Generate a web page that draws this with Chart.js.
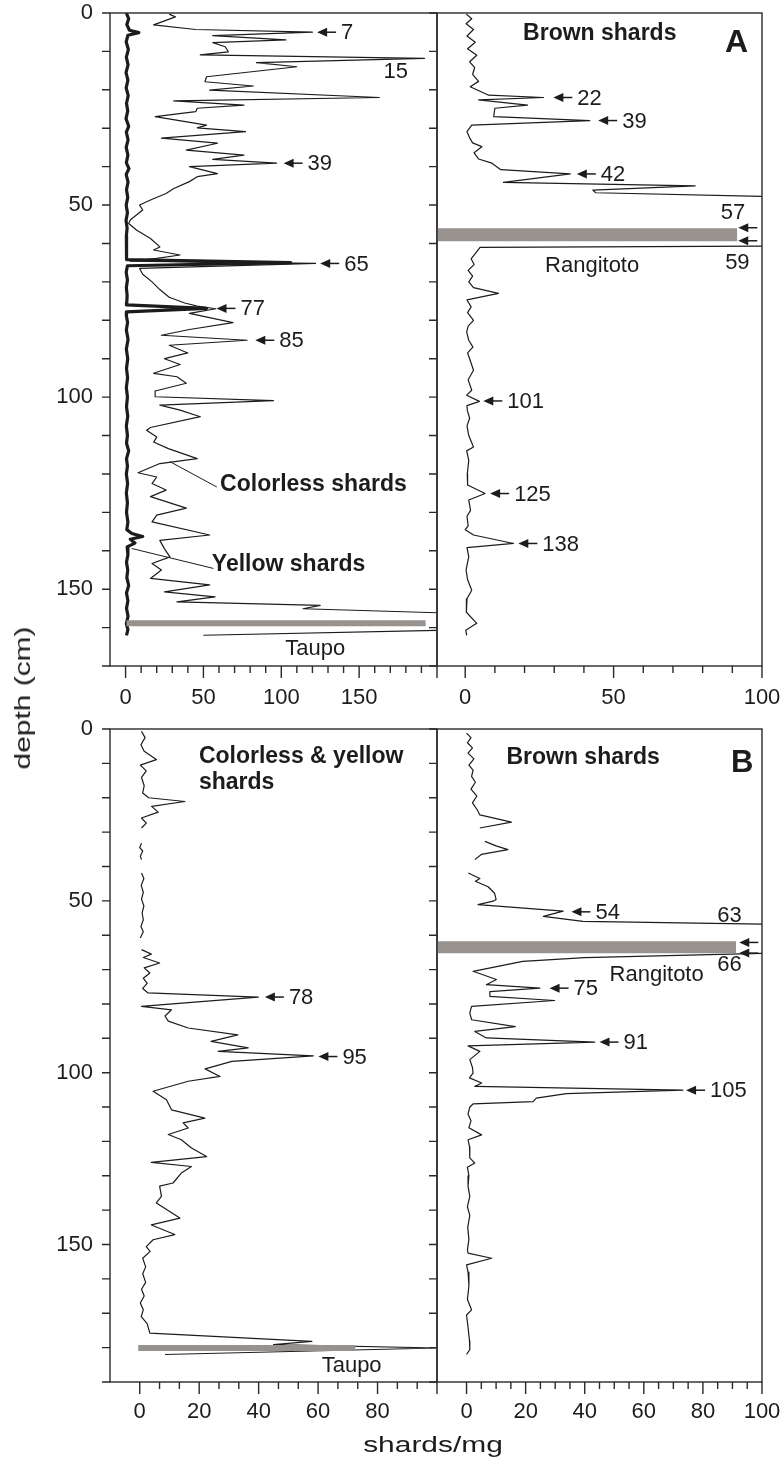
<!DOCTYPE html>
<html>
<head>
<meta charset="utf-8">
<script src="https://cdn.jsdelivr.net/npm/chart.js@4.4.1/dist/chart.umd.min.js"></script>
<style>
  body { margin: 0; background: #fff; }
  #page { position: relative; width: 783px; height: 1458px; overflow: hidden; background: #fff;
          font-family: 'Liberation Sans', Arial, Helvetica, sans-serif; color: #1c1c1c; }
  canvas { position: absolute; }
  .axisTitle { position: absolute; font-size: 22px; line-height: 22px; white-space: nowrap; }
  #ytitle { left: 23px; top: 698px; transform: translate(-50%, -50%) rotate(-90deg) scaleX(1.36); }
  #xtitle { left: 433px; top: 1434px; transform: translateX(-50%) scaleX(1.36); }
</style>
</head>
<body>
<div id="page">
  <canvas id="coreA_left" width="445" height="725" style="left:0px;top:0px"></canvas>
  <canvas id="coreA_right" width="363" height="725" style="left:420px;top:0px"></canvas>
  <canvas id="coreB_left" width="445" height="758" style="left:0px;top:700px"></canvas>
  <canvas id="coreB_right" width="363" height="758" style="left:420px;top:700px"></canvas>
  <div class="axisTitle" id="ytitle">depth (cm)</div>
  <div class="axisTitle" id="xtitle">shards/mg</div>
</div>
<script>
const FONT = "'Liberation Sans', Arial, Helvetica, sans-serif";
const INK = '#1c1c1c';
const GREY = '#98928f';

// ---------- core A : colorless shards (thin line) ----------
const depthColorlessA = [
  0.3, 1.0, 3.1, 4.3, 5.0, 5.9, 7.0, 7.7, 8.8, 10.1,
  10.9, 11.8, 12.9, 14.0, 16.6, 17.9, 19.0, 20.1, 22.0, 22.9,
  24.0, 24.8, 25.7, 27.0, 29.2, 29.9, 30.9, 32.6, 33.9, 35.7,
  37.0, 38.1, 39.1, 40.0, 41.8, 42.6, 43.9, 45.7, 47.0, 48.7,
  50.0, 51.3, 52.6, 53.9, 54.8, 56.5, 58.7, 60.9, 61.7, 63.0,
  63.9, 64.6, 65.2, 66.5, 68.0, 70.0, 72.0, 74.0, 75.5, 76.3,
  77.0, 78.2, 80.6, 82.4, 83.9, 85.2, 86.5, 88.5, 90.0, 91.5,
  93.8, 94.7, 96.4, 98.4, 99.9, 100.9, 102.1, 103.4, 105.1, 107.9,
  108.6, 110.4, 111.7, 113.4, 116.0, 117.3, 119.7, 120.8, 122.5, 124.2,
  125.9, 128.9, 130.7, 132.5, 135.9, 137.3, 139.5, 141.6, 143.3, 145.0,
  147.2, 148.9, 150.7, 152.0, 153.3, 154.2, 155.1, 156.2, 160.7, 162.0
];
const colorlessA = [
  28, 32, 18, 45, 120, 56, 103, 56, 64, 66,
  48, 192, 84, 110, 52, 51, 82, 54, 163, 31,
  76, 46, 45, 19, 52, 46, 77, 23, 59, 39,
  76, 56, 97, 41, 59, 46, 41, 31, 26, 16,
  9, 11, 7, 3, 2, 7, 16, 22, 18, 35,
  20, 3, 122, 9, 11, 17, 22, 28, 38, 46,
  58, 41, 69, 41, 23, 78, 28, 40, 25, 35,
  18, 33, 39, 19, 19, 95, 22, 35, 48, 16,
  13.5, 20, 18, 27.5, 46, 22, 8, 20, 17, 26,
  16, 39, 20, 17, 54, 22, 25, 28.5, 17, 23,
  16, 54, 25, 57.5, 33, 125, 114, 205, 205, 50
];

// ---------- core A : yellow shards (bold line) ----------
const depthYellowA = [
  0, 1.5, 3, 4.5, 5.1, 5.8, 7.5, 9.5, 11.5, 13.5,
  15.5, 17.5, 19.5, 21.5, 23.5, 25.5, 27.5, 29.5, 31, 33,
  35, 37, 39, 40.5, 42, 44, 46, 48, 50, 52,
  54, 56, 58, 60, 62, 64.2, 65.0, 65.8, 67.5, 69.5,
  71.5, 73.5, 75.3, 76.0, 76.9, 77.8, 78.8, 80.5, 82.5, 85,
  87.5, 90, 92.5, 95, 97.5, 100, 102.5, 105, 107.5, 110,
  112, 114, 116, 118, 120, 122.5, 125, 127.5, 130, 132.5,
  134.5, 135.5, 136.3, 137, 138, 139, 141, 143, 145, 147,
  149, 151, 153, 155, 157, 159, 160.5, 162
];
const yellowA = [
  0.5, 2.0, 0.8, 2.5, 8.5, 1.5, 0.4, 1.8, 0.5, 1.6,
  0.3, 1.5, 0.4, 1.7, 0.6, 1.4, 0.3, 2.0, 0.5, 1.6,
  0.4, 1.5, 0.5, 2.2, 0.4, 1.6, 0.6, 1.4, 0.4, 1.2,
  0.3, 1.0, 0.5, 0.8, 0.5, 0.6, 106, 1.2, 0.4, 1.2,
  0.5, 1.0, 0.8, 0.6, 52, 0.8, 0.5, 1.3, 0.5, 1.6,
  0.5, 1.4, 0.6, 1.3, 0.5, 1.2, 0.6, 1.4, 0.5, 1.2,
  0.6, 2.0, 0.6, 1.2, 0.5, 1.3, 0.5, 1.2, 0.6, 1.5,
  0.8, 4, 11, 3, 6, 1, 1.5, 0.6, 1.4, 0.8,
  2.0, 0.6, 1.5, 0.6, 1.6, 0.5, 1.5, 0.6
];

// ---------- core A : brown shards ----------
const depthBrownA = [
  0.3, 1.5, 2.8, 4.3, 6.0, 7.6, 9.3, 11.0, 12.7, 14.2,
  16.0, 17.8, 19.2, 21.4, 22.0, 22.6, 24.0, 24.8, 27.0, 28.0,
  29.2, 30.9, 32.5, 33.8, 34.8, 36.4, 38.0, 39.1, 40.8, 41.9,
  44.1, 45.0, 46.1, 46.8, 47.8, 60.7, 61.0, 62.5, 64.0, 65.5,
  67.0, 68.5, 70.0, 71.5, 73.0, 74.7, 76.5, 78.0, 80.0, 81.5,
  83.0, 85.2, 87.0, 88.5, 90.0, 93.0, 95.5, 98.2, 99.5, 101.1,
  102.2, 103.4, 105.5, 107.5, 110.0, 113.0, 114.0, 116.5, 120.0, 122.9,
  125.1, 126.8, 129.5, 131.0, 133.5, 134.5, 135.9, 138.1, 139.2, 141.5,
  145.0, 147.5, 150.3, 152.5, 156.0, 158.9, 160.7, 162.0
];
const brownA = [
  0.4, 2.2, 0.3, 2.8, 0.6, 3.4, 0.8, 3.9, 1.5, 3.2,
  2.5, 4.5, 1.7, 7.9, 26.4, 4.5, 21, 10, 9.6, 42,
  2.2, 0.6, 1.5, 2.5, 5.6, 3.0, 4.5, 9.0, 12, 35.4,
  12.9, 77.5, 43, 44, 104, 104, 5, 3.5, 2.0, 3.0,
  1.0, 2.5, 1.2, 2.8, 11.2, 0.6, 2.0, 0.8, 2.8, 1.0,
  0.5, 1.2, 2.6, 0.8, 1.5, 2.8, 1.0, 2.2, 0.5, 4.8,
  0.6, 0.7, 1.5, 0.6, 1.2, 2.8, 0.5, 1.2, 0.7, 0.8,
  6.7, 1.2, 1.8, 0.6, 1.0, 0.0, 2.8, 16.3, 0.6, 1.2,
  0.3, 0.8, 2.2, 0.6, 0.4, 3.9, 0.2, 0.5
];

// ---------- core B : colorless & yellow shards (null = no sample) ----------
const depthMixedB = [
  0.7, 2.5, 4.6, 6.5, 8.9, 10.5, 12.2, 14.1, 16.5, 18.6,
  20.0, 21.1, 22.5, 24.2, 25.9, 27.4, 28.8, 31.0, 33.2, 34.5,
  35.5, 37.0, 38.0, 40.0, 41.9, 43.5, 45.5, 47.5, 49.5, 51.5,
  53.5, 55.5, 57.5, 59.0, 60.8, 62.5, 64.2, 65.5, 66.5, 68.1,
  69.5, 71.0, 72.5, 74.0, 75.5, 76.8, 78.0, 79.4, 80.7, 81.7,
  83.5, 85.0, 87.0, 89.0, 90.9, 92.8, 93.8, 95.1, 96.7, 98.9,
  101.1, 102.5, 105.4, 107.9, 110.8, 113.2, 114.6, 116.1, 118.0, 119.5,
  121.9, 124.4, 126.1, 127.3, 129.2, 132.1, 133.0, 136.0, 137.9, 142.3,
  144.3, 147.1, 148.6, 150.6, 152.0, 154.0, 156.5, 158.5, 161.0, 163.0,
  165.0, 167.0, 169.0, 171.0, 173.0, 175.8, 178.2, 179.1, 180.1, 182.0
];
const mixedB = [
  0.6, 1.8, 0.4, 1.5, 5.6, 0.2, 2.2, 0.6, 1.5, 1.0,
  3.0, 15.2, 4.0, 6.2, 0.6, 2.2, 0.6, null, 0.6, 0.0,
  1.0, 0.2, 0.6, null, 0.6, 1.4, 0.5, 1.2, 0.6, 1.4,
  0.8, 1.2, 0.4, 1.2, 0.2, null, 0.6, 3.9, 1.2, 6.7,
  1.5, 3.4, 1.2, 2.5, 1.0, 2.8, 39.9, 19.5, 0.6, 10.7,
  8.5, 9.6, 16.3, 33, 24, 36.5, 26.4, 58.4, 31, 22,
  27, 16.3, 4.5, 9, 10.7, 21.9, 14.6, 16.3, 9.6, 14,
  17.4, 22.5, 3.9, 17.4, 14, 11.2, 6.7, 7.3, 5.6, 13.5,
  3.9, 11.8, 4.5, 2.2, 3.5, 1.0, 2.0, 1.0, 2.0, 0.6,
  1.5, 0.2, 1.2, 0.5, 2.5, 3.4, 57.9, 45, 100, 8.5
];

// ---------- core B : brown shards ----------
const depthBrownB = [
  1.2, 2.5, 4.0, 5.5, 7.0, 8.7, 10.5, 12.0, 13.8, 15.5,
  17.5, 19.5, 21.5, 23.5, 25.0, 27.1, 28.8, 30.5, 32.7, 34.0,
  35.1, 36.5, 38.0, 40.0, 41.9, 43.5, 44.3, 45.9, 47.8, 49.6,
  50.1, 51.1, 53.0, 54.5, 56.0, 56.8, 65.2, 66.5, 67.6, 70.5,
  72.9, 74.4, 75.4, 76.4, 77.8, 79.0, 80.7, 82.6, 84.6, 86.6,
  88.0, 89.9, 91.1, 92.2, 93.8, 96.2, 98.5, 100.1, 101.5, 103.0,
  104.0, 105.1, 106.1, 107.4, 108.4, 109.1, 110.0, 112.0, 114.0, 116.0,
  118.1, 119.5, 121.5, 124.8, 126.3, 127.5, 130.0, 133.0, 136.0, 139.0,
  141.5, 145.0, 148.5, 151.5, 152.5, 154.0, 155.9, 158.0, 162.0, 166.0,
  169.0, 170.5, 174.0, 178.0, 180.6, 182.0
];
const brownB = [
  0.0, 1.5, 0.3, 2.0, 0.5, 2.5, 0.8, 2.2, 1.7, 3.0,
  1.5, 3.5, 2.0, 3.6, 4.5, 15.2, 4.5, null, 6.2, 10,
  14, 5, 2.8, null, 0.6, 4.5, 3.0, 7.3, 9.5, 10,
  9, 3.9, 32.7, 26, 39.4, 104, 104, 40, 19, 2.2,
  10.1, 6.7, 24.8, 7.9, 7.9, 29.8, 1.7, 1.1, 1.7, 16.5,
  2.8, 6.7, 43.4, 0.5, 4.5, 1.1, 2.0, 2.2, 1.0, 5.1,
  2.8, 73.2, 33.8, 23.6, 22.5, 2.2, 1.1, 0.5, 1.5, 0.8,
  5.1, 0.5, 1.0, 1.1, 2.8, 0.3, 0.8, 0.5, 1.1, 0.3,
  1.1, 0.4, 0.8, 0.3, 0.5, 8.5, 0.0, 0.5, 0.8, 0.3,
  1.7, 0.0, 0.5, 1.0, 1.1, 0.0
];

// tephra layers (grey bars): depth and extent in shards/mg
const taupoA = {depth: 158.9, from: 0.6, to: 192.7};
const rangitotoA = {depth: 57.7, from: -9.5, to: 91.6};
const taupoB = {depth: 180.1, from: -0.5, to: 72.5};
const rangitotoB = {depth: 63.5, from: -10, to: 91.2};

// axis ticks
const yTicksA = [0, 10, 20, 30, 40, 50, 60, 70, 80, 90, 100, 110, 120, 130, 140, 150, 160, 170];
const yTicksB = [0, 10, 20, 30, 40, 50, 60, 70, 80, 90, 100, 110, 120, 130, 140, 150, 160, 170, 180, 190];
const yLabels = [0, 50, 100, 150];
const xTicksA1 = [0, 10, 20, 30, 40, 50, 60, 70, 80, 90, 100, 110, 120, 130, 140, 150, 160, 170, 180, 190, 200];
const xLabelsA1 = [0, 50, 100, 150];
const xMajorA1 = [0, 50, 100, 150, 200];
const xTicksA2 = [0, 10, 20, 30, 40, 50, 60, 70, 80, 90, 100];
const xLabelsA2 = [0, 50, 100];
const xTicksB1 = [0, 6.667, 13.333, 20, 26.667, 33.333, 40, 46.667, 53.333, 60, 66.667, 73.333, 80, 86.667, 93.333, 100];
const xLabelsB1 = [0, 20, 40, 60, 80];
const xMajorB1 = [0, 20, 40, 60, 80, 100];
const xTicksB2 = [0, 5, 10, 15, 20, 25, 30, 35, 40, 45, 50, 55, 60, 65, 70, 75, 80, 85, 90, 95, 100];
const xLabelsB2 = [0, 20, 40, 60, 80, 100];

// annotations: arrows point at (value, depth)
const arrowsA1 = [
  {d: 5.0, v: 123, label: '7'}, {d: 39.1, v: 101.5, label: '39'}, {d: 65.2, v: 125, label: '65'},
  {d: 76.9, v: 58.4, label: '77'}, {d: 85.2, v: 83.3, label: '85'}
];
const textsA1 = [
  {d: 15.4, v: 165.7, text: '15'},
  {d: 122.9, v: 60.7, text: 'Colorless shards', bold: true},
  {d: 143.5, v: 55.4, text: 'Yellow shards', bold: true},
  {d: 165.6, v: 102.6, text: 'Taupo'}
];
const leadersA1 = [
  {d1: 116.8, v1: 28.5, d2: 123.4, v2: 58.6},
  {d1: 139.4, v1: 3.9, d2: 144.6, v2: 56.4}
];
const arrowsA2 = [
  {d: 22.0, v: 29.7, label: '22'}, {d: 28.0, v: 44.8, label: '39'}, {d: 41.9, v: 37.6, label: '42'},
  {d: 55.9, v: 92, label: ''}, {d: 59.3, v: 92, label: ''},
  {d: 101.0, v: 6.1, label: '101'}, {d: 125.1, v: 8.4, label: '125'}, {d: 138.1, v: 17.9, label: '138'}
];
const textsA2 = [
  {d: 5.3, v: 19.5, text: 'Brown shards', bold: true},
  {d: 7.9, v: 87.5, text: 'A', bold: true, size: 32},
  {d: 52.1, v: 90.2, text: '57', align: 'center'},
  {d: 65.1, v: 91.7, text: '59', align: 'center'},
  {d: 65.9, v: 26.9, text: 'Rangitoto'}
];
const arrowsB1 = [{d: 78.0, v: 42.1, label: '78'}, {d: 95.3, v: 60.1, label: '95'}];
const textsB1 = [
  {d: 8.0, v: 19.9, text: 'Colorless & yellow', bold: true},
  {d: 15.7, v: 19.9, text: 'shards', bold: true},
  {d: 185.2, v: 61.2, text: 'Taupo'}
];
const arrowsB2 = [
  {d: 53.2, v: 35.5, label: '54'}, {d: 62.1, v: 92.3, label: ''}, {d: 65.2, v: 92.3, label: ''},
  {d: 75.4, v: 28.1, label: '75'}, {d: 91.1, v: 45, label: '91'}, {d: 105.1, v: 74.3, label: '105'}
];
const textsB2 = [
  {d: 8.4, v: 13.5, text: 'Brown shards', bold: true},
  {d: 10.1, v: 89.5, text: 'B', bold: true, size: 31},
  {d: 54.3, v: 89, text: '63', align: 'center'},
  {d: 68.6, v: 89, text: '66', align: 'center'},
  {d: 71.5, v: 48.4, text: 'Rangitoto'}
];

function pts(depths, values) {
  return depths.map((d, i) => ({x: values[i], y: d}));
}

function lineSet(depths, values, width) {
  return {
    data: pts(depths, values), showLine: true, borderColor: INK, borderWidth: width,
    pointRadius: 0, tension: 0, fill: false, spanGaps: false, borderJoinStyle: 'round'
  };
}

function barSet(layer, width) {
  return {
    data: [{x: layer.from, y: layer.depth}, {x: layer.to, y: layer.depth}],
    showLine: true, borderColor: GREY, borderWidth: width, pointRadius: 0, borderCapStyle: 'butt'
  };
}

// box around plot + tick marks (long ticks on labelled values)
const framePlugin = {
  id: 'frame',
  afterDraw(chart, args, opts) {
    const {ctx, chartArea: a} = chart;
    const sx = chart.scales.x, sy = chart.scales.y;
    ctx.save();
    ctx.strokeStyle = '#2a2a2a';
    ctx.lineWidth = 1.4;
    ctx.strokeRect(a.left, a.top, a.right - a.left, a.bottom - a.top);
    ctx.beginPath();
    sx.ticks.forEach(t => {
      const px = sx.getPixelForValue(t.value);
      const len = opts.xMajor.includes(t.value) ? 12 : 7;
      ctx.moveTo(px, a.bottom);
      ctx.lineTo(px, a.bottom + len);
    });
    sy.ticks.forEach(t => {
      const py = sy.getPixelForValue(t.value);
      ctx.moveTo(a.left - 8, py);
      ctx.lineTo(a.left, py);
    });
    ctx.stroke();
    ctx.restore();
  }
};

// arrows, labels and leader lines
const notesPlugin = {
  id: 'notes',
  afterDatasetsDraw(chart, args, opts) {
    const {ctx} = chart;
    const sx = chart.scales.x, sy = chart.scales.y;
    ctx.save();
    ctx.fillStyle = INK;
    ctx.strokeStyle = INK;
    ctx.textBaseline = 'middle';
    (opts.arrows || []).forEach(a => {
      const px = sx.getPixelForValue(a.v), py = sy.getPixelForValue(a.d);
      ctx.beginPath();
      ctx.moveTo(px, py);
      ctx.lineTo(px + 10, py - 4.5);
      ctx.lineTo(px + 10, py + 4.5);
      ctx.closePath();
      ctx.fill();
      ctx.lineWidth = 1.5;
      ctx.beginPath();
      ctx.moveTo(px + 8, py);
      ctx.lineTo(px + 19, py);
      ctx.stroke();
      if (a.label) {
        ctx.font = '22px ' + FONT;
        ctx.textAlign = 'left';
        ctx.fillText(a.label, px + 24, py + 1);
      }
    });
    (opts.leaders || []).forEach(l => {
      ctx.lineWidth = 1;
      ctx.beginPath();
      ctx.moveTo(sx.getPixelForValue(l.v1), sy.getPixelForValue(l.d1));
      ctx.lineTo(sx.getPixelForValue(l.v2), sy.getPixelForValue(l.d2));
      ctx.stroke();
    });
    (opts.texts || []).forEach(t => {
      ctx.font = (t.bold ? 'bold ' : '') + (t.size || (t.bold ? 23 : 22)) + 'px ' + FONT;
      ctx.textAlign = t.align || 'left';
      ctx.fillText(t.text, sx.getPixelForValue(t.v), sy.getPixelForValue(t.d));
    });
    ctx.restore();
  }
};

// drop the label overflow padding so the plot box lands where the layout puts it
function noPad(s) {
  s.paddingLeft = 0;
  s.paddingRight = 0;
  s.paddingTop = 0;
  s.paddingBottom = 0;
}

function makePanel(id, cfg) {
  const tickFont = {family: FONT, size: 22};
  return new Chart(document.getElementById(id), {
    type: 'scatter',
    data: {datasets: cfg.datasets},
    options: {
      responsive: false,
      animation: false,
      events: [],
      layout: {padding: cfg.padding},
      plugins: {
        legend: {display: false},
        tooltip: {enabled: false},
        frame: {xMajor: cfg.xMajor},
        notes: cfg.notes
      },
      scales: {
        x: {
          type: 'linear', min: cfg.xMin, max: cfg.xMax,
          afterBuildTicks: s => { s.ticks = cfg.xTicks.map(v => ({value: v})); },
          afterFit: s => { s.height = cfg.xHeight; noPad(s); },
          grid: {display: false, drawTicks: false},
          border: {display: false},
          ticks: {
            autoSkip: false, maxRotation: 0, padding: cfg.xPad, color: INK, font: tickFont,
            callback: v => cfg.xLabels.includes(v) ? String(v) : ''
          }
        },
        y: {
          type: 'linear', reverse: true, min: 0, max: cfg.yMax,
          afterBuildTicks: s => { s.ticks = cfg.yTicks.map(v => ({value: v})); },
          afterFit: s => { s.width = cfg.yWidth; noPad(s); },
          grid: {display: false, drawTicks: false},
          border: {display: false},
          ticks: {
            display: cfg.showYLabels, autoSkip: false, padding: 17, color: INK, font: tickFont,
            callback: v => yLabels.includes(v) ? String(v) : ''
          }
        }
      }
    },
    plugins: [framePlugin, notesPlugin]
  });
}

window.onload = () => {
  makePanel('coreA_left', {
    datasets: [barSet(taupoA, 6), lineSet(depthYellowA, yellowA, 3.2), lineSet(depthColorlessA, colorlessA, 1.2)],
    padding: {top: 13, right: 8, left: 0, bottom: 0},
    xMin: -10, xMax: 200, xTicks: xTicksA1, xLabels: xLabelsA1, xMajor: xMajorA1, xHeight: 59, xPad: 19,
    yMax: 170, yTicks: yTicksA, yWidth: 110, showYLabels: true,
    notes: {arrows: arrowsA1, texts: textsA1, leaders: leadersA1}
  });
  makePanel('coreA_right', {
    datasets: [barSet(rangitotoA, 13), lineSet(depthBrownA, brownA, 1.2)],
    padding: {top: 13, right: 21, left: 0, bottom: 0},
    xMin: -9.5, xMax: 100, xTicks: xTicksA2, xLabels: xLabelsA2, xMajor: xLabelsA2, xHeight: 59, xPad: 19,
    yMax: 170, yTicks: yTicksA, yWidth: 17, showYLabels: false,
    notes: {arrows: arrowsA2, texts: textsA2}
  });
  makePanel('coreB_left', {
    datasets: [barSet(taupoB, 6), lineSet(depthMixedB, mixedB, 1.2)],
    padding: {top: 29, right: 8, left: 0, bottom: 0},
    xMin: -10, xMax: 100, xTicks: xTicksB1, xLabels: xLabelsB1, xMajor: xMajorB1, xHeight: 76, xPad: 17,
    yMax: 190, yTicks: yTicksB, yWidth: 110, showYLabels: true,
    notes: {arrows: arrowsB1, texts: textsB1}
  });
  makePanel('coreB_right', {
    datasets: [barSet(rangitotoB, 12), lineSet(depthBrownB, brownB, 1.2)],
    padding: {top: 29, right: 21, left: 0, bottom: 0},
    xMin: -10, xMax: 100, xTicks: xTicksB2, xLabels: xLabelsB2, xMajor: xLabelsB2, xHeight: 76, xPad: 17,
    yMax: 190, yTicks: yTicksB, yWidth: 17, showYLabels: false,
    notes: {arrows: arrowsB2, texts: textsB2}
  });
};
</script>
</body>
</html>
